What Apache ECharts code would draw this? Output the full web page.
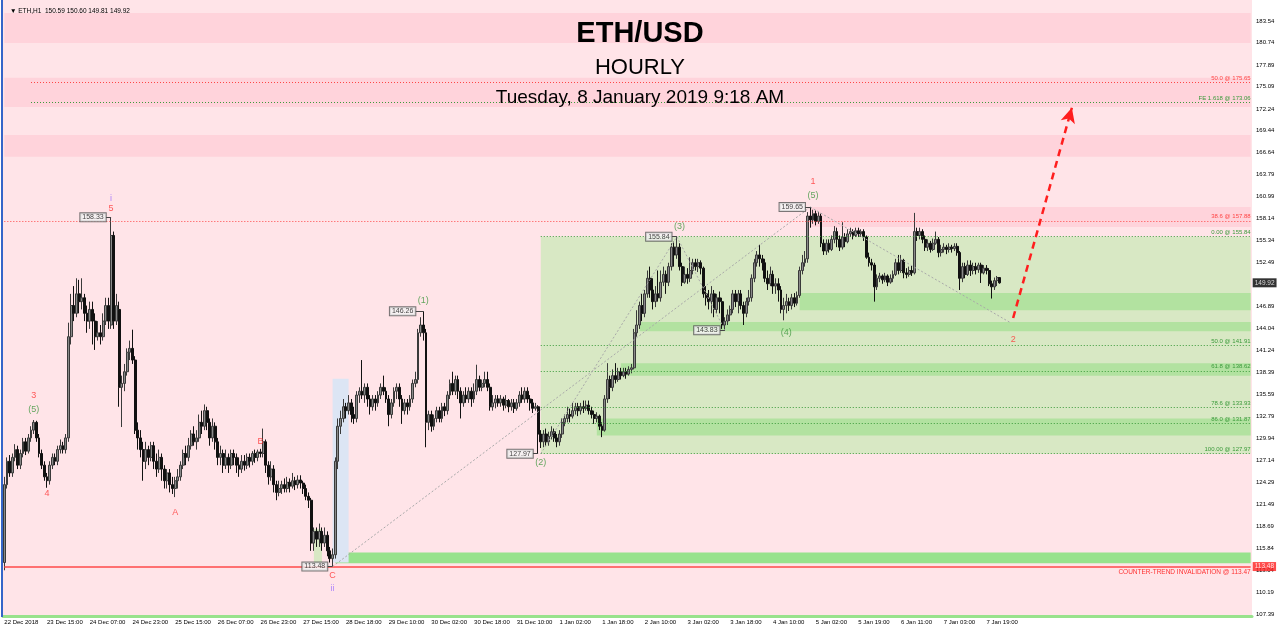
<!DOCTYPE html>
<html><head><meta charset="utf-8">
<script src="https://cdn.jsdelivr.net/npm/echarts@6/dist/echarts.min.js"></script>
<style>html,body{margin:0;padding:0;background:#fff}#c{width:1280px;height:630px}</style>
</head><body><div id="c"></div>
<script>
// ---- data ----
const xLabels = ['22 Dec 2018','23 Dec 15:00','24 Dec 07:00','24 Dec 23:00','25 Dec 15:00','26 Dec 07:00','26 Dec 23:00','27 Dec 15:00','28 Dec 18:00','29 Dec 10:00','30 Dec 02:00','30 Dec 18:00','31 Dec 10:00','1 Jan 02:00','1 Jan 18:00','2 Jan 10:00','3 Jan 02:00','3 Jan 18:00','4 Jan 10:00','5 Jan 02:00','5 Jan 19:00','6 Jan 11:00','7 Jan 03:00','7 Jan 19:00'];
const yTicks = [183.54,180.74,177.89,175.09,172.24,169.44,166.64,163.79,160.99,158.14,155.34,152.49,146.89,144.04,141.24,138.39,135.59,132.79,129.94,127.14,124.29,121.49,118.69,115.84,113.04,110.19,107.39];
// [open, close, low, high]
const candles = [
[114,124,113,125],[124,127,123.5,127.5],[127,125.5,125,127.8],[125.5,127.5,125,128],[127.5,128.5,127,129.2],[128.5,126.5,126,129],[126.5,128,126,128.5],[128,129.5,127.5,130],[129.5,128.3,127.8,130],[128.3,130,128,130.5],
[130,131,129.5,131.5],[131,132,130.5,132.3],[132,130,129.5,132.2],[130,128,127.5,130.5],[128,126.5,126,128.5],[126.5,125,124.5,127],[125,124.5,123.6,125.5],[124.5,126.5,124,127],[126.5,127.5,126,128],[127.5,127,126.5,128],
[127,128.5,126.5,129],[128.5,129,128,129.8],[129,128.5,128,129.5],[128.5,130,128,130.5],[130,143,129.5,144.8],[143,147,142,148.5],[147,146,145,149.5],[146,148.5,145.5,150.5],[148.5,147.5,146,150.3],[147.5,148,146.5,150.5],
[148,146,145,148.5],[146,145,143.5,147],[145,146.5,144,147.5],[146.5,145,142,147.5],[145,143,141.3,146],[143,143.5,142.5,145],[143.5,143,142,144.5],[143,145,142.5,146],[145,147,144.5,148],[147,145,144,148],
[144.5,156,144,158.33],[156,145,144,156.5],[145,147,144.5,148.5],[146.5,136.5,134,147.5],[136.5,137,131.4,138],[137,138.5,136,139.5],[138.5,141,138,141.5],[141,141.5,140,142.5],[141.5,140,139.5,143.9],[140,131,130.5,140.5],
[131,130,128.5,132],[130,128.5,127.5,131],[128.5,127,124.5,129.5],[127,128.5,126,129.5],[128.5,127.5,126.5,129],[127.5,129,127,129.5],[129,127,126,129.5],[127,126,125,128],[126,127.5,125.5,128.5],[127.5,126,124.5,128],
[126,124.5,123.5,126.5],[124.5,125.5,123.5,126],[125.5,124,123,126],[124,123.5,122.8,125],[123.5,124.5,122.4,125],[124.5,125,123.5,126],[125,126.5,124.5,127],[126.5,128,126,128.5],[128,127.5,126.5,129],[127.5,129,127,130],
[129,130.5,128.5,131],[130.5,129.5,129,131.5],[129.5,130,128.5,131],[130,132,129.5,133],[132,131.5,130.5,133.5],[131.5,133.5,131,134.3],[133.5,132,131,134],[132,130,129,132.5],[130,131.5,129.5,132.5],[131.5,129.5,128.5,132],
[129.5,127.5,126.5,130],[127.5,128,126.5,129],[128,126.5,125.5,128.5],[126.5,127.5,126,128.5],[127.5,126.5,125.5,128],[126.5,128,126,128.5],[128,127.5,126.5,128.5],[127.5,126.5,125.5,128],[126.5,126,125,127.5],[126,127,125.5,127.8],
[127,126.5,125.8,127.8],[126.5,127.5,126,128],[127.5,127,126.2,128],[127,128,126.5,128.3],[128,127.5,126.8,128.5],[127.5,128.2,127,128.5],[128.2,128,127.5,128.6],[128,129.5,127.5,131.2],[129.5,126.5,125.5,129.8],[126.5,125,124,127],
[125,126,124.5,127],[126,124,123,126.5],[124,123,122,124.5],[123,123.5,122.5,124.5],[123.5,124,122.8,124.5],[124,123.5,123,124.8],[123.5,124.3,123,125],[124.3,123.8,123,124.8],[123.8,124.5,123.5,125.5],[124.5,124,123.3,125],
[124,124.6,123.5,125.2],[124.6,124.2,123.5,125.2],[124.2,123.5,122.8,124.5],[123.5,122.5,122,124],[122.5,122,121,123],[122,116.5,115.5,122.3],[116.5,118,115.5,118.5],[118,117,116,118.5],[117,118,116,119],[118,116.5,115.5,118.5],
[116.5,117.5,116,118.5],[117.5,115.5,114.8,118],[115.5,114.5,114,116],[114.5,115,113.48,115.8],[115,127,114.5,127.5],[127,131.5,126,132.5],[131.5,132.5,130.5,133.5],[132.5,134,132,135],[134,133.5,132.5,134.5],[133.5,134.5,133,135.5],
[134.5,133,132,135],[133,132.5,131.8,134],[132.5,135.5,132,136],[135.5,136,134.5,136.5],[136,135.5,135,140],[135.5,136.5,134.5,137],[136.5,135,134,137],[135,134,133,135.5],[134,135,133.5,135.5],[135,134.5,133.5,135.5],
[134.5,135.5,134,136],[135.5,136.5,135,137],[136.5,136,135.5,138],[136,135,134.5,136.5],[135,133,131.5,135.5],[133,134.5,132.5,135],[134.5,136,134,136.5],[136,136.5,135,137],[136.5,135,134,137],[135,133.5,131.8,135.5],
[133.5,134.5,133,135],[134.5,134,133,135],[134,135,133.5,135.5],[135,137,134.5,137.5],[137,137.5,136.5,138.5],[137.5,143.5,137,144],[143.5,144.5,143,145.5],[144.5,143.5,142.5,146.26],[143.5,132,128.8,144],[132,133,131,133.5],
[133,131.5,130.8,133.5],[131.5,132.5,131,133],[132.5,133.5,132,134],[133.5,132.5,132,134],[132.5,134,132,134.5],[134,133.5,132.8,134.5],[133.5,135.5,133,136],[135.5,137,135,137.5],[137,136,135.5,138.5],[136,137.5,135.5,138],
[137.5,136,135,138],[136,134.5,132.5,136.5],[134.5,135.5,134,136],[135.5,135,134.5,136.5],[135,136,134.5,136.5],[136,135,134,136.5],[135,136,134.5,137],[136,137.5,135.5,139.4],[137.5,136.5,136,138],[136.5,137,136,137.5],
[137,137.5,136.5,138.5],[137.5,136.5,136,138.5],[136.5,134,133.5,137],[134,134.5,133.5,135.5],[134.5,135,133.8,135.5],[135,134.5,134,135.5],[134.5,135,134,135.5],[135,134.2,133.5,135.3],[134.2,134.8,133.8,135.5],[134.8,134,133.3,135],
[134,134.5,133.5,135],[134.5,133.8,133.2,135],[133.8,134.5,133.5,135],[134.5,135.5,134,136],[135.5,135,134.5,136.5],[135,136,134.5,136.5],[136,135,134.5,136.5],[135,134.5,133.5,135.5],[134.5,133.8,133.2,135],[133.8,134,133.5,134.5],
[134,130.5,127.97,134.2],[130.5,129.5,128.7,131],[129.5,130.5,128.8,131],[130.5,129.5,129,131.2],[129.5,130.2,129,130.8],[130.2,130.8,129.8,131.5],[130.8,130,129.5,131.2],[130,129.5,128.8,130.5],[129.5,130.5,129,131],[130.5,132,130,132.5],
[132,132.5,131.5,133],[132.5,133,132,134],[133,132.8,132,133.8],[132.8,133.5,132.5,134.5],[133.5,134,133,134.5],[134,133.5,132.8,134.5],[133.5,134,133,134.5],[134,133.8,133.2,134.8],[133.8,134.2,133.5,134.8],[134.2,133.5,133,134.8],
[133.5,133,132.5,134],[133,132.5,131.8,133.5],[132.5,132.8,132,133.3],[132.8,131.5,131,133],[131.5,131,130.1,132],[131,135,130.8,135.5],[135,137.5,134.5,139.6],[137.5,136.5,135,138],[136.5,138,136,138.8],[138,137.5,137,139.6],
[137.5,138.5,137.2,139],[138.5,138,137.5,139],[138,138.5,137.8,139],[138.5,138.2,137.6,139],[138.2,138.8,138,139.2],[138.8,139,138.3,139.5],[139,143.5,138.8,144],[143.5,144.5,143,146.4],[144.5,147,144,147.5],[147,146,145,148.5],
[146,148.5,145.5,149],[148.5,150.5,148,151.5],[150.5,149,148,152],[149,147.5,146.5,150.5],[147.5,148.5,146.8,149.5],[148.5,148,147.5,151.5],[148,150,147.5,151.5],[150,151,149.5,152],[151,150,148.5,151.5],[150,152,149.5,152.5],
[152,154.5,151.5,155],[154.5,153.5,152,155.2],[153.5,154.5,153,155.84],[154.5,152,151.5,155],[152,150,149.5,152.5],[150,151,149.8,152],[151,150.5,149.8,151.8],[150.5,151.5,150,153.2],[151.5,152.5,151,153],[152.5,152,151.5,153],
[152,152.5,151.3,153],[152.5,151.8,151,152.8],[151.8,148.5,148,152],[148.5,148,147,149.5],[148,147.5,146.5,149],[147.5,148.5,146,149.5],[148.5,146.5,145.5,149],[146.5,148,146,148.5],[148,147.5,146,148.8],[147.5,144.5,144,148],
[144.5,145,143.83,145.5],[145,145.8,144.5,146.5],[145.8,146.5,145,147],[146.5,148.5,146,149],[148.5,147.5,146.8,149],[147.5,148.5,146,149],[148.5,147,146.5,149],[147,146,144.5,147.5],[146,147.5,145.5,148],[147.5,148,147,149],
[148,150.5,147.5,151],[150.5,152.5,150,153],[152.5,153.5,152,154],[153.5,153,152,154.8],[153,152.5,151.5,153.5],[152.5,150.5,150,153],[150.5,149.8,149,151.5],[149.8,151,149.5,152],[151,149.5,148.5,151.5],[149.5,149.8,148.5,150.5],
[149.8,149,147.5,150.5],[149,146.5,146,149.5],[146.5,147,145.1,148],[147,147.5,146,148.5],[147.5,147,146.3,148],[147,148,146.5,148.5],[148,147.3,146.8,148.6],[147.3,148.3,147,148.8],[148.3,151.5,148,152],[151.5,152.5,151,153.5],
[152.5,153,152,154],[153,158.5,152.5,159],[158.5,158,157,159.65],[158,158.8,157.5,159.3],[158.8,157.8,157.3,159.2],[157.8,158.5,157.5,159],[158.5,155,154.5,158.8],[155,154,153.5,155.5],[154,155,153.5,155.5],[155,154.2,153.8,155.5],
[154.2,155.5,154,156],[155.5,156.5,155,157.2],[156.5,155.5,154.5,157],[155.5,154.5,154,156],[154.5,155.8,154.2,157.7],[155.8,155.2,154.5,156.3],[155.2,156.2,155,156.8],[156.2,156.5,155.8,157],[156.5,156,155.5,156.8],[156,156.6,155.8,157],
[156.6,156.2,155.8,157],[156.2,156.5,155.8,156.8],[156.5,155.8,155.3,156.8],[155.8,153.2,153,156],[153.2,152.5,152,153.8],[152.5,152.2,151.5,153],[152.2,149.4,147.5,152.5],[149.4,150.5,149,151],[150.5,150.8,150,151.2],[150.8,150.3,149.8,151],
[150.3,150.8,150,151.2],[150.8,150,149.5,151],[150,150.5,149.8,151],[150.5,151,150,151.5],[151,152.5,150.8,153],[152.5,151.5,151,153.5],[151.5,152.8,151.2,153.5],[152.8,151.2,150.5,153],[151.2,151,150.5,151.8],[151,151.5,150.7,152],
[151.5,151.2,150.8,152.2],[151.2,156.5,151,158.9],[156.5,156,155.3,157],[156,156.5,155.5,157],[156.5,155.5,155,156.8],[155.5,154.5,154,156],[154.5,155,154,155.5],[155,154.2,153.8,155.3],[154.2,155,154,155.6],[155,155.5,154.8,156.5],
[155.5,153.8,153.2,155.8],[153.8,154.2,153.3,154.8],[154.2,154.5,153.8,155],[154.5,154.2,153.6,154.8],[154.2,154.5,153.8,155],[154.5,154.3,153.8,154.8],[154.3,154.6,154,155],[154.6,153.8,153.4,155],[153.8,150.5,149,154],[150.5,152,150,152.5],
[152,151,150.5,152.5],[151,152.2,150.8,152.8],[152.2,151.5,150.8,152.8],[151.5,152,151,152.5],[152,151.6,151,152.5],[151.6,152.2,151.2,152.5],[152.2,151.2,149.9,152.5],[151.2,151.8,151,152.2],[151.8,151.5,151,152.2],[151.5,149.8,149.5,151.8],
[149.8,149.4,147.9,150.2],[149.4,150.2,149,150.6],[150.2,150.59,149.5,150.8],[150.59,149.92,149.81,150.6]
];
// zones: [fromIdx, toIdx, lowPrice, highPrice]
const pinkZones = [[0,467,180.72,184.57],[0,467,172.5,176.25],[0,467,166.1,168.9],[302,467,157.08,159.65]];
const lightGreenZones = [[201,467,127.97,155.84],[116,119,113.9,118.3]];
const darkGreenZones = [[298,467,146.4,148.6],[238,467,143.7,144.9],[231,467,138.0,139.6],[222,467,130.3,132.5]];
const brightGreenZones = [[124,467,113.9,115.3]];
const blueZones = [[123,129,114.0,137.6]];
// fibonacci levels
const fibLevels = [175.65,173.06,157.88,155.84,141.91,138.62,133.93,131.87,127.97];
const fibText = ['50.0 @ 175.65','FE 1.618 @ 173.06','38.6 @ 157.88','0.00 @ 155.84','50.0 @ 141.91','61.8 @ 138.62','78.6 @ 133.93','86.0 @ 131.87','100.00 @ 127.97'];
const fibStart = [10,10,0,201,201,201,201,201,201];
const fibKind = ['r','g','r','g','g','g','g','g','g'];
const invalidation = 113.47;
// wave zigzag lines [x1,y1,x2,y2]
const waveLines = [[123,113.48,302,159.65],[201,127.97,252,155.84],[252,155.84,270,143.83],[302,159.65,377,144.8]];
const projection = [378,145.4,400,172.4];
// wave labels
const waveText = ['i','5','3','(5)','4','A','B','C','ii','(1)','(2)','(3)','(4)','1','(5)','2'];
const waveX = [40,40,11,11,16,64,96,123,123,157,201,253,293,303,303,378];
const waveY = [160.8,159.4,135.4,133.6,122.9,120.4,129.6,112.3,110.7,147.7,126.8,157.2,143.6,162.9,161.1,142.6];
const waveDeg = ['p','r','r','g','r','r','r','r','p','g','g','g','g','r','g','r'];
// price boxes [boxIdx, candleIdx, price]
const priceBoxes = [[38,40,158.33],[121,123,113.48],[154,157,146.26],[198,200,127.97],[250,252,155.84],[268,270,143.83],[300,302,159.65]];
const lastPrice = 149.92;
const invalidPrice = 113.48;

// ---- chart ----
const N = 468;
const cats = [];
for (let i = 0; i < N; i++) cats.push(String(i));
const END = N - 1;
const COL = {r:'#FF3333', g:'#3C963C', p:'#9B6BFF'};
const FONT = 'Liberation Sans';

function areas(list, color) {
  return list.map(z => [{coord:[z[0], z[3]], itemStyle:{color:color}}, {coord:[z[1], z[2]]}]);
}
const areaData = [].concat(
  areas(pinkZones, '#FFD3DB'),
  areas(lightGreenZones, '#D8E8C4'),
  areas(darkGreenZones, '#B2E2A0'),
  areas(brightGreenZones, '#98E28C'),
  areas(blueZones, '#DCE5F4')
);

const lineData = [];
fibLevels.forEach((v, k) => {
  const c = fibKind[k] === 'r' ? '#FF4545' : '#3A9A3A';
  lineData.push([
    {coord:[fibStart[k], v], lineStyle:{color:c, type:[1,2], width:1},
     label:{show:true, position:'insideEndTop', formatter:fibText[k], color:c, fontSize:6, fontFamily:FONT, distance:[0,1]}},
    {coord:[END, v]}
  ]);
});
lineData.push([
  {coord:[0, invalidation], lineStyle:{color:'#FF4A4A', type:'solid', width:1.5},
   label:{show:true, position:'insideEndBottom', formatter:'COUNTER-TREND INVALIDATION @ ' + invalidation.toFixed(2), color:'#FF3030', fontSize:6.5, fontFamily:FONT, distance:[0,2]}},
  {coord:[END, invalidation]}
]);
waveLines.forEach(w => {
  lineData.push([{coord:[w[0], w[1]], lineStyle:{color:'#A9A9A9', type:[2,2], width:1}, label:{show:false}}, {coord:[w[2], w[3]]}]);
});
priceBoxes.forEach(b => {
  lineData.push([{coord:[b[0], b[2]], lineStyle:{color:'#444', type:'solid', width:1}, label:{show:false}}, {coord:[b[1], b[2]]}]);
});
lineData.push([
  {coord:[projection[0], projection[1]], symbol:'none', lineStyle:{color:'#FF1E1E', type:[7,5], width:2.5}, label:{show:false}},
  {coord:[projection[2], projection[3]], symbol:'arrow', symbolSize:[11,15]}
]);

const textData = waveText.map((t, k) => ({
  value:[waveX[k], waveY[k]],
  label:{show:true, position:'inside', formatter:t, color:COL[waveDeg[k]], fontSize:9, fontFamily:FONT}
}));
priceBoxes.forEach(b => {
  textData.push({
    value:[b[0], b[2]],
    label:{show:true, position:'left', distance:0, formatter:b[2].toFixed(2), color:'#111', fontSize:7, fontFamily:FONT,
      backgroundColor:'#F3F3F3', borderColor:'#555', borderWidth:1, padding:[1,2,0,2]}
  });
});
textData.push({value:[END, lastPrice], label:{show:true, position:'right', distance:2, formatter:lastPrice.toFixed(2), color:'#fff', backgroundColor:'#000', fontSize:6.5, fontFamily:FONT, padding:[1,2,1,2]}});
textData.push({value:[END, invalidPrice], label:{show:true, position:'right', distance:2, formatter:invalidPrice.toFixed(2), color:'#fff', backgroundColor:'#FF1E1E', fontSize:6.5, fontFamily:FONT, padding:[1,2,1,2]}});

const chart = echarts.init(document.getElementById('c'));
chart.setOption({
  animation:false,
  backgroundColor:'#FFFFFF',
  title:[
    {text:'\u25BC ETH,H1  150.59 150.60 149.81 149.92', left:5, top:3, textStyle:{fontSize:6.5, fontWeight:'normal', color:'#000', fontFamily:FONT}},
    {text:'ETH/USD', left:'center', top:14, textStyle:{fontSize:29, fontWeight:'bold', color:'#000', fontFamily:FONT}},
    {text:'HOURLY', left:'center', top:52, textStyle:{fontSize:22, fontWeight:'normal', color:'#000', fontFamily:FONT}},
    {text:'Tuesday, 8 January 2019 9:18 AM', left:'center', top:83, textStyle:{fontSize:19, fontWeight:'normal', color:'#000', fontFamily:FONT}}
  ],
  graphic:[{type:'rect', left:1, top:0, shape:{width:2, height:617}, style:{fill:'#3565C8'}, z:100}],
  grid:{left:3, right:28, top:0, bottom:14, show:true, backgroundColor:'#FFE4E8', borderWidth:0},
  xAxis:{
    type:'category', data:cats, boundaryGap:true,
    axisLine:{show:true, lineStyle:{color:'#98E28C', width:3}},
    axisTick:{show:false},
    axisLabel:{
      interval:(idx) => idx % 16 === 0 && idx / 16 < xLabels.length,
      formatter:(val, idx) => xLabels[idx / 16] || '',
      fontSize:6, color:'#000', align:'left', margin:3, fontFamily:FONT
    },
    splitLine:{show:false}
  },
  yAxis:{
    type:'value', position:'right', min:107.13, max:186.24,
    splitLine:{show:false}, axisLine:{show:false}, axisTick:{show:false},
    axisLabel:{customValues:yTicks, formatter:v => v.toFixed(2), fontSize:6, color:'#000', margin:4, fontFamily:FONT}
  },
  series:[
    {type:'line', data:[], markArea:{silent:true, data:areaData}},
    {type:'candlestick', data:candles, barWidth:2.4, z:3,
      itemStyle:{color:'#8A8A8A', color0:'#111111', borderColor:'#3A3A3A', borderColor0:'#111111', borderWidth:1}},
    {type:'line', data:[], markLine:{silent:true, symbol:'none', animation:false, data:lineData}},
    {type:'scatter', data:textData, symbolSize:0, clip:false, z:10, silent:true}
  ]
});
</script></body></html>
